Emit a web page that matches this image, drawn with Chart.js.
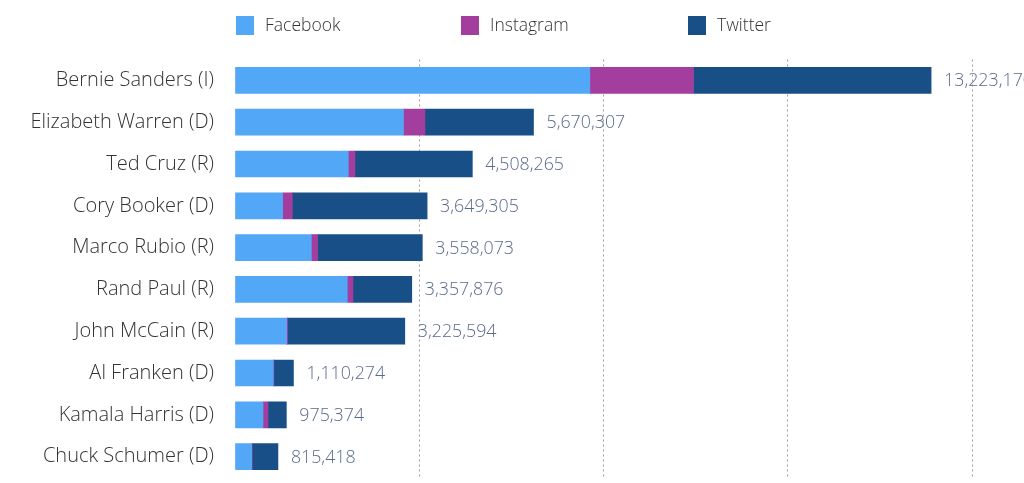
<!DOCTYPE html>
<html>
<head>
<meta charset="utf-8">
<script src="https://cdn.jsdelivr.net/npm/chart.js@4"></script>
<style>
  html, body { margin: 0; padding: 0; background: #fff; overflow: hidden; }
  #wrap { width: 1024px; height: 483px; position: relative; }
</style>
</head>
<body>
<div id="wrap"><canvas id="c"></canvas></div>
<script>
const categories = [
  'Bernie Sanders (I)', 'Elizabeth Warren (D)', 'Ted Cruz (R)', 'Cory Booker (D)',
  'Marco Rubio (R)', 'Rand Paul (R)', 'John McCain (R)', 'Al Franken (D)',
  'Kamala Harris (D)', 'Chuck Schumer (D)'
];
const seriesNames = ['Facebook', 'Instagram', 'Twitter'];
const facebook  = [6740000, 3200000, 2152000, 905000, 1450000, 2133000, 981000, 728000, 532000, 317000];
const instagram = [1970000, 408000, 127000, 184000, 120000, 108000, 20000, 10000, 95000, 10000];
const twitter   = [4513170, 2062307, 2229265, 2560305, 1988073, 1116876, 2224594, 372274, 348374, 488418];
const xTicks = [0, 3500000, 7000000, 10500000, 14000000];

const colors = ['#52a7f7', '#a33e9e', '#174f86'];
const FONT = "'Open Sans', 'DejaVu Sans', sans-serif";

const legendPlugin = {
  id: 'customLegend',
  afterDraw(chart) {
    const ctx = chart.ctx;
    const xs = [236, 461, 688];
    ctx.save();
    chart.data.datasets.forEach((ds, i) => {
      ctx.fillStyle = ds.backgroundColor;
      ctx.fillRect(xs[i], 16, 18, 19);
      ctx.fillStyle = '#333333';
      ctx.font = '300 17.5px ' + FONT;
      ctx.textBaseline = 'middle';
      ctx.textAlign = 'left';
      ctx.fillText(ds.label, xs[i] + 29, 26);
    });
    ctx.restore();
  }
};

const totalsPlugin = {
  id: 'totals',
  afterDatasetsDraw(chart) {
    const ctx = chart.ctx;
    const xs = chart.scales.x;
    const meta = chart.getDatasetMeta(chart.data.datasets.length - 1);
    ctx.save();
    ctx.font = '300 17.8px ' + FONT;
    ctx.fillStyle = '#5b6b8c';
    ctx.textBaseline = 'middle';
    ctx.textAlign = 'left';
    categories.forEach((c, i) => {
      const total = facebook[i] + instagram[i] + twitter[i];
      const x = xs.getPixelForValue(total) + 13;
      const y = meta.data[i].y;
      ctx.fillText(total.toLocaleString('en-US'), x, y + 1);
    });
    ctx.restore();
  }
};

new Chart(document.getElementById('c'), {
  type: 'bar',
  data: {
    labels: categories,
    datasets: [
      { label: seriesNames[0], data: facebook,  backgroundColor: colors[0] },
      { label: seriesNames[1], data: instagram, backgroundColor: colors[1] },
      { label: seriesNames[2], data: twitter,   backgroundColor: colors[2] }
    ]
  },
  options: {
    indexAxis: 'y',
    responsive: true,
    animation: false,
    maintainAspectRatio: false,
    layout: { padding: { top: 59.5, bottom: 5.5, right: 52, left: 0 } },
    datasets: { bar: { barThickness: 26, borderWidth: 0 } },
    plugins: {
      legend: { display: false },
      tooltip: { enabled: false }
    },
    scales: {
      x: {
        stacked: true,
        min: 0,
        max: 14000000,
        afterBuildTicks(scale) { scale.ticks = xTicks.map(v => ({ value: v })); },
        afterFit(scale) { scale.height = 0; scale.paddingLeft = 0; scale.paddingRight = 0; },
        ticks: { display: false },
        grid: {
          drawTicks: false,
          color: (ctx) => ctx.tick && ctx.tick.value === 0 ? 'rgba(0,0,0,0)' : '#9a9a9a',
          lineWidth: 1
        },
        border: { display: false, dash: [2, 3] }
      },
      y: {
        stacked: true,
        afterFit(scale) { scale.width = 235; scale.paddingTop = 0; scale.paddingBottom = 0; },
        grid: { display: false, drawTicks: false },
        border: { display: false },
        ticks: {
          padding: 21,
          color: '#333333',
          font: { family: FONT, size: 20, weight: '300' }
        }
      }
    }
  },
  plugins: [legendPlugin, totalsPlugin]
});
</script>
</body>
</html>
